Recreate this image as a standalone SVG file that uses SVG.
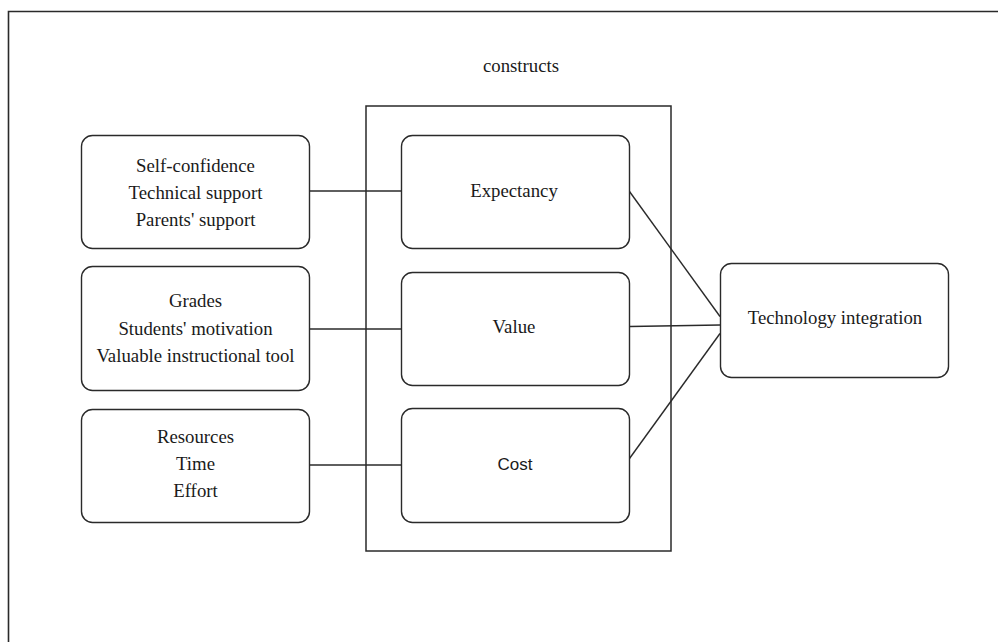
<svg xmlns="http://www.w3.org/2000/svg" width="998" height="642" viewBox="0 0 998 642">
<style>
.box{fill:#fff;stroke:#2a2a2a;stroke-width:1.4}
.frame{fill:none;stroke:#2a2a2a;stroke-width:1.6}
.t{font-family:"Liberation Serif","Times New Roman",serif;font-size:18.8px;fill:#1a1a1a;text-anchor:middle}
.s{font-family:"Liberation Sans",Arial,sans-serif;font-size:17px;fill:#1a1a1a;text-anchor:middle}
.c line{stroke:#2a2a2a;stroke-width:1.4}
</style>
<rect width="998" height="642" fill="#fff"/>
<path class="frame" d="M8.5 650 V11.5 H1000"/>
<g id="constructs">
<rect x="366" y="106" width="305" height="445" fill="none" stroke="#2a2a2a" stroke-width="1.5"/>
<text class="t" x="521" y="72">constructs</text>
</g>
<g class="c" id="connectors">
<line x1="310" y1="191" x2="402" y2="191"/>
<line x1="310" y1="329" x2="402" y2="329"/>
<line x1="310" y1="465" x2="402" y2="465"/>
<line x1="629.5" y1="191.5" x2="720" y2="316.5"/>
<line x1="630" y1="326.5" x2="720" y2="325"/>
<line x1="629.5" y1="458.5" x2="720" y2="333.5"/>
</g>
<g id="left1">
<rect class="box" x="81.5" y="135.5" width="228" height="113" rx="11"/>
<text class="t" x="195.5" y="172">Self-confidence</text>
<text class="t" x="195.5" y="199">Technical support</text>
<text class="t" x="195.5" y="226">Parents' support</text>
</g>
<g id="left2">
<rect class="box" x="81.5" y="266.5" width="228" height="124" rx="11"/>
<text class="t" x="195.5" y="307">Grades</text>
<text class="t" x="195.5" y="335">Students' motivation</text>
<text class="t" x="195.5" y="362">Valuable instructional tool</text>
</g>
<g id="left3">
<rect class="box" x="81.5" y="409.5" width="228" height="113" rx="11"/>
<text class="t" x="195.5" y="443">Resources</text>
<text class="t" x="195.5" y="470">Time</text>
<text class="t" x="195.5" y="497">Effort</text>
</g>
<g id="expectancy">
<rect class="box" x="401.5" y="135.5" width="228" height="113" rx="11"/>
<text class="t" x="514" y="197">Expectancy</text>
</g>
<g id="value">
<rect class="box" x="401.5" y="272.5" width="228" height="113" rx="11"/>
<text class="t" x="514" y="333">Value</text>
</g>
<g id="cost">
<rect class="box" x="401.5" y="408.5" width="228" height="114" rx="11"/>
<text class="s" x="515" y="470">Cost</text>
</g>
<g id="technology">
<rect class="box" x="720.5" y="263.5" width="228" height="114" rx="11"/>
<text class="t" x="835" y="324">Technology integration</text>
</g>
</svg>
